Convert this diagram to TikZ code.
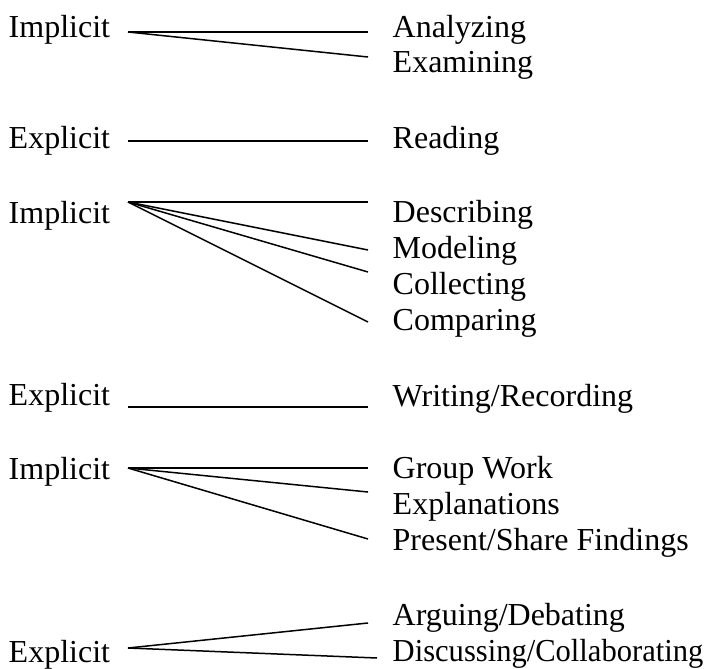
\documentclass[tikz,border=0pt]{standalone}
\usepackage{fontspec}
\setmainfont{Liberation Serif}
\usepackage{tikz}
\tikzset{lbl/.style={anchor=base west,inner sep=0pt,font=\fontsize{32}{36}\selectfont},
         link/.style={line width=1.5pt}}

\begin{document}
\begin{tikzpicture}[x=1pt,y=-1pt]
       \useasboundingbox (0,0) rectangle (720,669);
       % left column
       \node[lbl] (imp1) at (8.5,38)  {Implicit};
       \node[lbl] (exp1) at (8.5,148) {Explicit};
       \node[lbl] (imp2) at (8.5,223) {Implicit};
       \node[lbl] (exp2) at (8.5,405) {Explicit};
       \node[lbl] (imp3) at (8.5,479) {Implicit};
       \node[lbl] (exp3) at (8.5,662) {Explicit};
       % right column
       \node[lbl] (ana) at (392.5,38)  {Analyzing};
       \node[lbl] (exa) at (392.5,73)  {Examining};
       \node[lbl] (rea) at (392.5,148) {Reading};
       \node[lbl] (des) at (392.5,222) {Describing};
       \node[lbl] (mod) at (392.5,258) {Modeling};
       \node[lbl] (col) at (392.5,294) {Collecting};
       \node[lbl] (cmp) at (392.5,330) {Comparing};
       \node[lbl] (wri) at (392.5,406) {Writing/Recording};
       \node[lbl] (grp) at (392.5,478) {Group Work};
       \node[lbl] (epl) at (392.5,514) {Explanations};
       \node[lbl] (pre) at (392.5,550) {Present/Share Findings};
       \node[lbl] (arg) at (392.5,625) {Arguing/Debating};
       \node[lbl] (dis) at (392.5,661) {\scalebox{0.955}[1]{Discussing/Collaborating}};
       % line roots and ends
       \coordinate (h1) at (128,32);  \coordinate (h2) at (128,141);
       \coordinate (h3) at (128,202); \coordinate (h4) at (128,407);
       \coordinate (h5) at (128,468); \coordinate (h6) at (128,648);
       \coordinate (ana-e) at (368,32);  \coordinate (exa-e) at (368,57);
       \coordinate (rea-e) at (368,141);
       \coordinate (des-e) at (368,202); \coordinate (mod-e) at (368,250);
       \coordinate (col-e) at (368,272); \coordinate (cmp-e) at (368,322);
       \coordinate (wri-e) at (368,407);
       \coordinate (grp-e) at (368,468); \coordinate (epl-e) at (368,492);
       \coordinate (pre-e) at (368,539);
       \coordinate (arg-e) at (368,623); \coordinate (dis-e) at (377,658);
       \foreach \h/\e in {h1/ana,h1/exa,h2/rea,h3/des,h3/mod,h3/col,h3/cmp,h4/wri,
                          h5/grp,h5/epl,h5/pre,h6/arg,h6/dis}
          \draw[link] (\h) -- (\e-e);
\end{tikzpicture}
\end{document}
